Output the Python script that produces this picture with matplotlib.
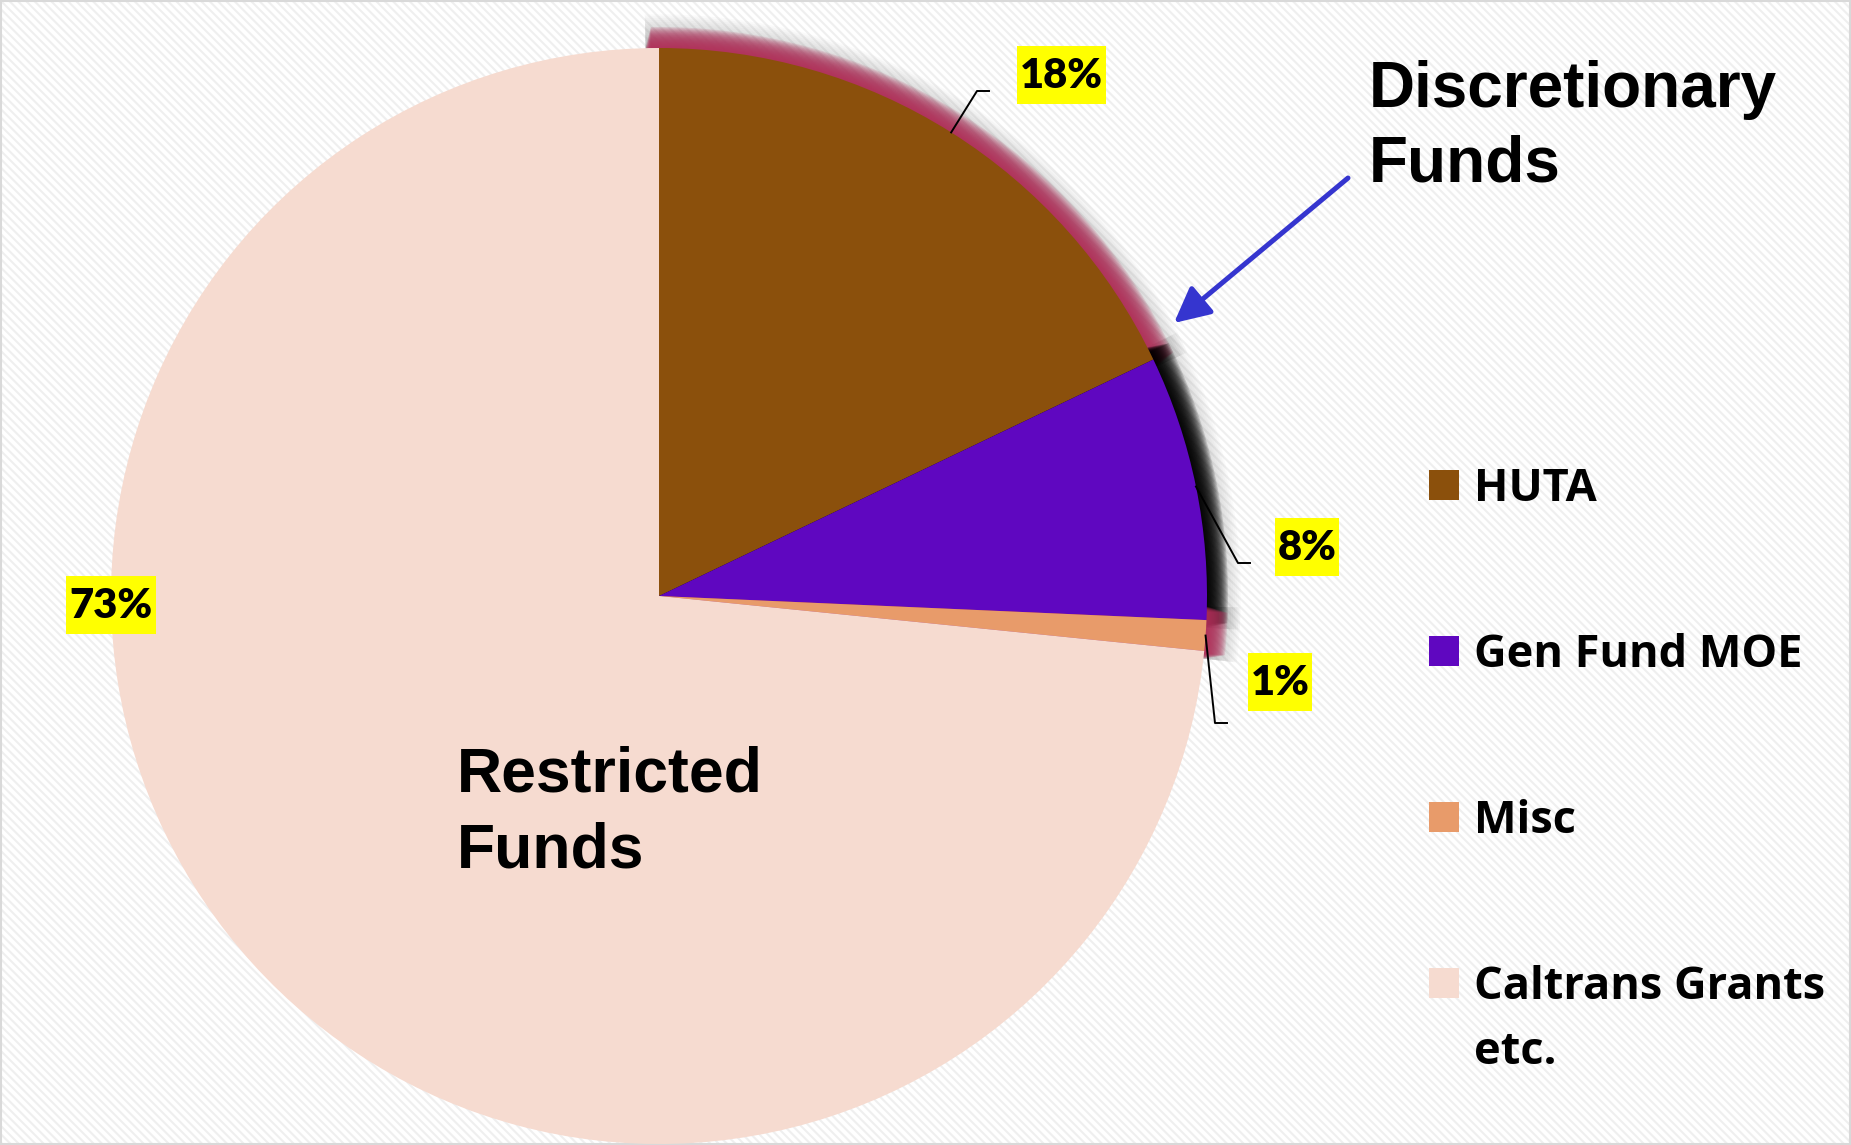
import numpy as np
import matplotlib
matplotlib.use("Agg")
import matplotlib.pyplot as plt
from matplotlib.patches import Rectangle, Wedge

# data
categories = ["HUTA", "Gen Fund MOE", "Misc", "Caltrans Grants\netc."]
shares = [17.9, 7.8, 0.9, 73.4]
slice_colors = ["#8B500C", "#5F07C0", "#E89B6A", "#F6DBD0"]
glow_colors = ["#B0305A", "#000000", "#B0305A", None]

# label boxes (figure pixels, y down) and leader elbows
label_pos = [(1061, 75), (1307, 547), (1280, 682), (111, 605)]
leader_elbow = [(977, 91), (1238, 563), (1215, 723), None]
leader_end = [(989, 91), (1250, 563), (1227, 723), None]

W, H = 1851, 1145
cx, cy, R = 659, 596, 548   # pie centre / radius in pixels

plt.rcParams["hatch.linewidth"] = 1.5
plt.rcParams["hatch.color"] = "#efefef"

fig = plt.figure(figsize=(W / 100, H / 100), dpi=100)
fig.patch.set_facecolor("white")

# background axes in pixel coords
bg = fig.add_axes([0, 0, 1, 1])
bg.set_xlim(0, W)
bg.set_ylim(H, 0)
bg.axis("off")
bg.add_patch(Rectangle((0, 0), W, H, facecolor="white", edgecolor="#efefef",
                       hatch="\\\\\\\\", linewidth=0, zorder=0))
bg.add_patch(Rectangle((1, 1), W - 2, H - 2, fill=False, edgecolor="#d9d9d9",
                       linewidth=1.5, zorder=1))

# pie axes
ax = fig.add_axes([(cx - R) / W, (H - cy - R) / H, 2 * R / W, 2 * R / H])
ax.patch.set_alpha(0)
wedges, _ = ax.pie(shares, colors=slice_colors, startangle=90, counterclock=False,
                   radius=1, wedgeprops=dict(linewidth=0, zorder=3))
ax.set_xlim(-1, 1)
ax.set_ylim(-1, 1)
ax.axis("off")

# glow around the discretionary slices
total = sum(shares)
cum = np.concatenate([[0], np.cumsum(shares)]) / total
n_layers = 18
d = 21 / R
for i, gc in enumerate(glow_colors):
    if gc is None:
        continue
    t_start = 90 - 360 * cum[i] + 1.4
    t_end = 90 - 360 * cum[i + 1] - 0.8
    for k in range(n_layers):
        r = 1 + 1.6 * d * (k + 1) / n_layers
        ax.add_patch(Wedge((0, 0), r, t_end, t_start, facecolor="#707070",
                           alpha=0.03, linewidth=0, zorder=1, clip_on=False))
    for k in range(n_layers):
        r = 1 + d * (k + 1) / n_layers
        # soften the angular ends a little on the outer layers
        shrink = 0.6 * k / n_layers
        ax.add_patch(Wedge((0, 0), r, t_end + shrink, t_start - shrink, facecolor=gc,
                           alpha=0.15, linewidth=0, zorder=2, clip_on=False))

# overlay axes for labels, leaders, legend
fg = fig.add_axes([0, 0, 1, 1])
fg.set_xlim(0, W)
fg.set_ylim(H, 0)
fg.axis("off")
fg.patch.set_alpha(0)

# percentage labels with leader lines
pct_texts = []
for i, v in enumerate(shares):
    mid = np.deg2rad(90 - 360 * (cum[i] + cum[i + 1]) / 2)
    if leader_elbow[i] is not None:
        sx, sy = cx + R * np.cos(mid), cy - R * np.sin(mid)
        ex, ey = leader_elbow[i]
        fx, fy = leader_end[i]
        fg.plot([sx, ex, fx], [sy, ey, fy], color="black", lw=1.4, zorder=6)
    x, y = label_pos[i]
    t = fg.text(x, y + 1, f"{round(v)}%", ha="center", va="center", fontsize=30,
                fontfamily="Lato", fontweight="heavy", color="black", zorder=8)
    pct_texts.append(t)

fig.canvas.draw()
for t in pct_texts:
    bb = t.get_window_extent()
    x, y = t.get_position()
    w = bb.width + 6
    fg.add_patch(Rectangle((x - w / 2, y - 1 - 29), w, 58, facecolor="#FFFF00",
                           edgecolor="none", zorder=7))

# annotations
fg.text(1369, 182, "Discretionary\nFunds", ha="left", va="baseline", fontsize=46,
        fontfamily="Liberation Sans", fontweight="bold", color="black",
        linespacing=1.32, zorder=7)
fg.text(457, 868, "Restricted\nFunds", ha="left", va="baseline", fontsize=45,
        fontfamily="Liberation Sans", fontweight="bold", color="black",
        linespacing=1.38, zorder=7)
fg.annotate("", xy=(1174, 323), xytext=(1348, 178),
            arrowprops=dict(arrowstyle="-|>,head_length=0.6,head_width=0.3",
                            color="#3535CF", lw=3.6, mutation_scale=36,
                            shrinkA=0, shrinkB=0), zorder=7)

# legend
for i, (lab, col) in enumerate(zip(categories, slice_colors)):
    yc = 485 + i * 166
    fg.add_patch(Rectangle((1429, yc - 15), 30, 30, facecolor=col, edgecolor="none", zorder=6))
    fg.text(1474, yc + 16 + 65 * lab.count("\n"), lab, ha="left", va="baseline",
            fontsize=32.5, fontfamily="Open Sans", fontweight="bold", color="black",
            linespacing=1.6, zorder=7)

fig.savefig("out.png", dpi=100)
